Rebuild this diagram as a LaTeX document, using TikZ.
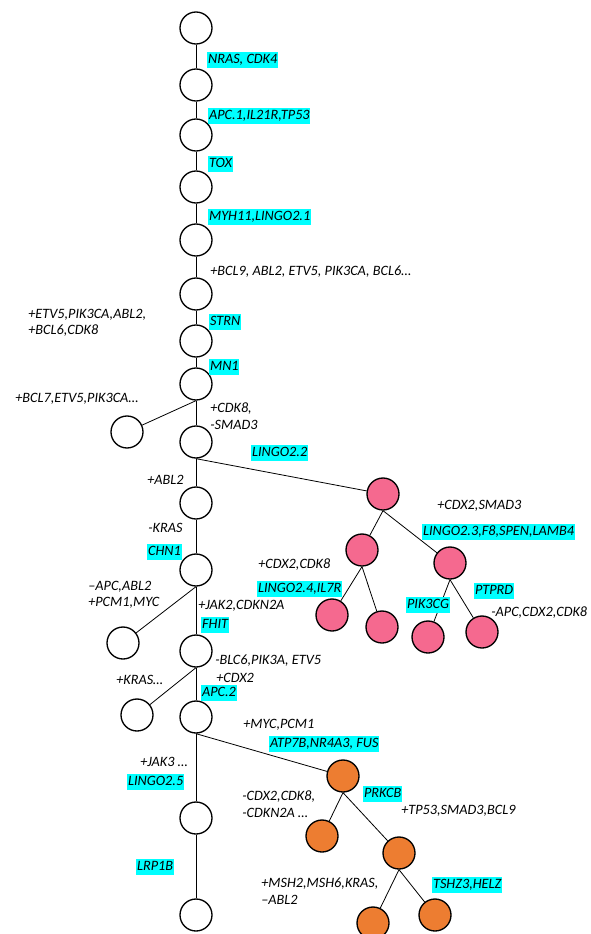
\documentclass[tikz,border=0pt]{standalone}
\usepackage{fontspec}
\setmainfont{Carlito}
\usepackage{xcolor}
\usetikzlibrary{positioning}
\definecolor{pinkclone}{HTML}{F5698F}
\definecolor{orangeclone}{HTML}{ED7D31}
\definecolor{genehl}{HTML}{00FFFF}

\begin{document}
\begin{tikzpicture}[x=0.75pt, y=-0.75pt,
  every node/.append style={font=\fontsize{10.7}{12.3}\selectfont\itshape},
  clone/.style={circle, draw, line width=1pt, minimum size=24pt, inner sep=0pt},
  pinkc/.style={clone, fill=pinkclone},
  orangec/.style={clone, fill=orangeclone},
  gene/.style={anchor=west, fill=genehl, inner xsep=0.6pt, inner ysep=1pt, text height=7.6pt, text depth=2pt},
  mut/.style={anchor=west, inner sep=0pt, align=left},
  edge/.style={line width=0.6pt}]
\clip (0,0) rectangle (590,934);

% Trunk
\foreach \n/\y in {1/28, 2/85, 3/135, 4/187, 5/240, 6/294, 7/341, 8/384,
                   9/442, 10/503, 11/570, 12/651, 13/717, 14/818, 15/915} {
  \node[clone] (n\n) at (196,\y) {};
}
\foreach \a/\b in {1/2, 2/3, 3/4, 4/5, 5/6, 6/7, 7/8, 8/9, 9/10,
                   10/11, 11/12, 12/13, 13/14, 14/15} {
  \draw[edge] (n\a.south) -- (n\b.north);
}

% Side branches
\node[clone] (s8) at (127,432) {};
\node[clone] (s11) at (123,643) {};
\node[clone] (s12) at (137,715) {};
\draw[edge] (n8.south) -- (s8);
\draw[edge] (n11.south) -- (s11);
\draw[edge] (n12.south) -- (s12);

% Pink subtree
\node[pinkc] (p1) at (383,494) {};
\node[pinkc] (p2) at (362,550) {};
\node[pinkc] (p3) at (450,563) {};
\node[pinkc] (p4) at (332,615) {};
\node[pinkc] (p5) at (382,627) {};
\node[pinkc] (p6) at (428,637) {};
\node[pinkc] (p7) at (482,632) {};
\draw[edge] (n9.south) -- (p1);
\foreach \a/\b in {1/2, 1/3, 2/4, 2/5, 3/6, 3/7} {
  \draw[edge] (p\a.south) -- (p\b);
}

% Orange subtree
\node[orangec] (o1) at (343,776) {};
\node[orangec] (o2) at (322,836) {};
\node[orangec] (o3) at (399,853) {};
\node[orangec] (o4) at (373,923) {};
\node[orangec] (o5) at (435,915) {};
\draw[edge] (n13.south) -- (o1);
\foreach \a/\b in {1/2, 1/3, 3/4, 3/5} {
  \draw[edge] (o\a.south) -- (o\b);
}

% Trunk labels
\node[gene] (g1) at (207,60) {NRAS, CDK4};
\node[gene] (g2) at (208,116) {APC.1,IL21R,TP53};
\node[gene] (g3) at (208,164) {TOX};
\node[gene] (g4) at (208,217) {MYH11,LINGO2.1};
\node[mut] (m5) at (210,272) {+BCL9, ABL2, ETV5, PIK3CA, BCL6…};
\node[mut] (m6) at (28,323) {+ETV5,PIK3CA,ABL2,\\+BCL6,CDK8};
\node[gene] (g6) at (209,322) {STRN};
\node[gene] (g7) at (209,367) {MN1};
\node[mut] (m7) at (15,399) {+BCL7,ETV5,PIK3CA…};
\node[mut] (m8) at (210,416) {+CDK8,\\-SMAD3};
\node[gene] (g9) at (251,453) {LINGO2.2};
\node[mut] (m9) at (147,480) {+ABL2};
\node[mut] (m10) at (148,528) {-KRAS};
\node[gene] (g10) at (147,552) {CHN1};
\node[mut] (m11) at (88,595) {–APC,ABL2\\+PCM1,MYC};
\node[mut] (m12) at (198,606) {+JAK2,CDKN2A};
\node[gene] (g11) at (201,625) {FHIT};
\node[mut] (m13) at (215,661) {-BLC6,PIK3A, ETV5};
\node[mut] (m14) at (216,678) {+CDX2};
\node[mut] (m15) at (116,680) {+KRAS…};
\node[gene] (g12) at (201,693) {APC.2};
\node[mut] (m16) at (243,725) {+MYC,PCM1};
\node[gene] (g13) at (269,744) {ATP7B,NR4A3, FUS};
\node[mut] (m17) at (140,762) {+JAK3 …};
\node[gene] (g14) at (127,782) {LINGO2.5};
\node[gene] (g15) at (136,867) {LRP1B};

% Pink labels
\node[mut] (m18) at (437,506) {+CDX2,SMAD3};
\node[gene] (g16) at (422,532) {LINGO2.3,F8,SPEN,LAMB4};
\node[mut] (m19) at (258,565) {+CDX2,CDK8};
\node[gene] (g17) at (257,589) {LINGO2.4,IL7R};
\node[gene] (g18) at (474,591) {PTPRD};
\node[gene] (g19) at (406,605) {PIK3CG};
\node[mut] (m20) at (491,613) {-APC,CDX2,CDK8};

% Orange labels
\node[mut] (m21) at (242,804) {-CDX2,CDK8,\\-CDKN2A …};
\node[gene] (g20) at (363,794) {PRKCB};
\node[mut] (m22) at (401,811) {+TP53,SMAD3,BCL9};
\node[mut] (m23) at (261,891) {+MSH2,MSH6,KRAS,\\–ABL2};
\node[gene] (g21) at (432,885) {TSHZ3,HELZ};
\end{tikzpicture}
\end{document}
